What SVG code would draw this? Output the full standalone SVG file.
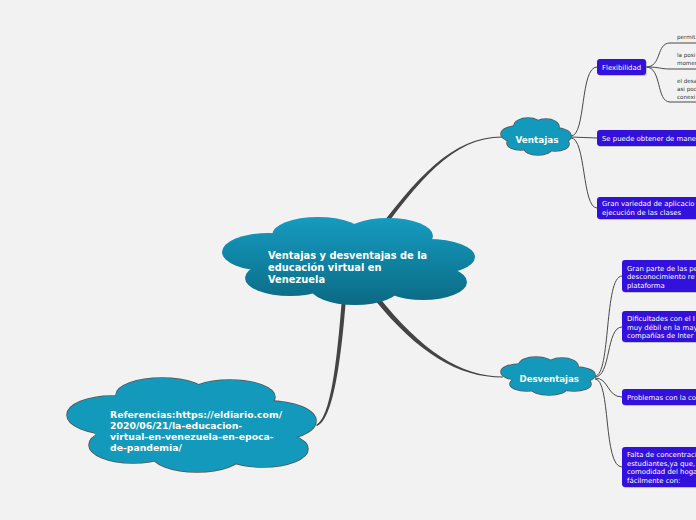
<svg xmlns="http://www.w3.org/2000/svg" width="696" height="520" viewBox="0 0 696 520">
<defs>
<linearGradient id="mainGrad" gradientUnits="userSpaceOnUse" x1="0" y1="217" x2="0" y2="305">
<stop offset="0" stop-color="#159bc0"/>
<stop offset="1" stop-color="#0b6a84"/>
</linearGradient>
<style>
.bg{fill:#f2f2f2}
.conn{fill:none;stroke:#4a4a4a;stroke-width:1}
.taper{fill:#444}
.cl-stroke ellipse{fill:none;stroke:#555;stroke-width:1.6}
.cl-fill ellipse{fill:#1399bb}
.main ellipse{fill:url(#mainGrad)}
.ctitle{font-family:"DejaVu Sans",Verdana,sans-serif;font-weight:bold;fill:#ffffff}
.box{fill:#3311dd;rx:3;ry:3}
.shadow{fill:#9a9a9a;opacity:0.55}
.btext{font-family:"DejaVu Sans",Verdana,sans-serif;font-size:6.9px;fill:#ffffff}
.ltext{font-family:"DejaVu Sans",Verdana,sans-serif;font-size:5.6px;fill:#333333}
</style>
</defs>
<rect class="bg" x="0" y="0" width="696" height="520"/>

<g id="connectors">
<path class="taper" d="M370 240 C416 178 452 136.5 502 136.5 L502 137.5 C453 137.5 419 180 374 242 Z"/>
<path class="taper" d="M378 296 C421 350 460 376.5 503 376.5 L503 377.5 C458 377.5 418 353 374 299 Z"/>
<path class="taper" d="M342 298 C337 360 331 418 316 425 L317 426 C333 420 341 362 346 298 Z"/>
<path class="conn" d="M571 136 C586 136 580 67 597 67"/>
<path class="conn" d="M571 137 L597 138"/>
<path class="conn" d="M571 138 C586 138 582 208 597 208"/>
<path class="conn" d="M646 67 C662 67 656 43 670 43 L696 43"/>
<path class="conn" d="M646 67 C660 67 660 69 670 69 L696 69"/>
<path class="conn" d="M646 67 C662 67 656 102 670 102 L696 102"/>
<path class="conn" d="M595 376 C611 376 604 276 622 276"/>
<path class="conn" d="M595 377 C611 377 606 327 622 327"/>
<path class="conn" d="M595 378 C609 378 607 397 622 397"/>
<path class="conn" d="M595 379 C611 379 603 467 622 467"/>
</g>

<g id="main-topic">
<g class="main">
<ellipse cx="318" cy="235" rx="46" ry="18"/>
<ellipse cx="388" cy="236" rx="45" ry="18"/>
<ellipse cx="268" cy="252" rx="46" ry="19"/>
<ellipse cx="428" cy="257" rx="47" ry="18"/>
<ellipse cx="290" cy="278" rx="45" ry="18"/>
<ellipse cx="355" cy="287" rx="45" ry="18"/>
<ellipse cx="423" cy="282" rx="44" ry="18"/>
<ellipse cx="348" cy="262" rx="100" ry="28"/>
</g>
<text class="ctitle" font-size="9.9" x="268" y="258.5">Ventajas y desventajas de la</text>
<text class="ctitle" font-size="9.9" x="268" y="270.5">educación virtual en</text>
<text class="ctitle" font-size="9.9" x="268" y="282.5">Venezuela</text>
</g>

<g id="ventajas">
<g class="cl-stroke">
<ellipse cx="528" cy="126" rx="14" ry="8"/>
<ellipse cx="546" cy="127" rx="13" ry="8"/>
<ellipse cx="518" cy="134" rx="17" ry="8"/>
<ellipse cx="556" cy="136" rx="15" ry="8"/>
<ellipse cx="521" cy="143" rx="14" ry="7"/>
<ellipse cx="538" cy="148" rx="14" ry="7"/>
<ellipse cx="555" cy="144" rx="14" ry="7"/>
</g>
<g class="cl-fill">
<ellipse cx="528" cy="126" rx="14" ry="8"/>
<ellipse cx="546" cy="127" rx="13" ry="8"/>
<ellipse cx="518" cy="134" rx="17" ry="8"/>
<ellipse cx="556" cy="136" rx="15" ry="8"/>
<ellipse cx="521" cy="143" rx="14" ry="7"/>
<ellipse cx="538" cy="148" rx="14" ry="7"/>
<ellipse cx="555" cy="144" rx="14" ry="7"/>
<ellipse cx="536" cy="137" rx="25" ry="10"/>
</g>
<text class="ctitle" font-size="8.8" x="515.5" y="143">Ventajas</text>
</g>

<g id="desventajas">
<g class="cl-stroke">
<ellipse cx="536" cy="365" rx="17" ry="8"/>
<ellipse cx="562" cy="366" rx="16" ry="8"/>
<ellipse cx="520" cy="372" rx="19" ry="8"/>
<ellipse cx="575" cy="375" rx="20" ry="8"/>
<ellipse cx="527" cy="384" rx="17" ry="7"/>
<ellipse cx="549" cy="388" rx="18" ry="7"/>
<ellipse cx="574" cy="384" rx="17" ry="7"/>
</g>
<g class="cl-fill">
<ellipse cx="536" cy="365" rx="17" ry="8"/>
<ellipse cx="562" cy="366" rx="16" ry="8"/>
<ellipse cx="520" cy="372" rx="19" ry="8"/>
<ellipse cx="575" cy="375" rx="20" ry="8"/>
<ellipse cx="527" cy="384" rx="17" ry="7"/>
<ellipse cx="549" cy="388" rx="18" ry="7"/>
<ellipse cx="574" cy="384" rx="17" ry="7"/>
<ellipse cx="548" cy="376" rx="38" ry="11"/>
</g>
<text class="ctitle" font-size="8.6" x="519.5" y="382">Desventajas</text>
</g>

<g id="referencias">
<g class="cl-stroke">
<ellipse cx="162" cy="395" rx="46" ry="17"/>
<ellipse cx="230" cy="397" rx="45" ry="17"/>
<ellipse cx="112" cy="415" rx="45" ry="19"/>
<ellipse cx="268" cy="421" rx="48" ry="20"/>
<ellipse cx="133" cy="445" rx="44" ry="18"/>
<ellipse cx="197" cy="455" rx="45" ry="17"/>
<ellipse cx="263" cy="449" rx="45" ry="18"/>
</g>
<g class="cl-fill">
<ellipse cx="162" cy="395" rx="46" ry="17"/>
<ellipse cx="230" cy="397" rx="45" ry="17"/>
<ellipse cx="112" cy="415" rx="45" ry="19"/>
<ellipse cx="268" cy="421" rx="48" ry="20"/>
<ellipse cx="133" cy="445" rx="44" ry="18"/>
<ellipse cx="197" cy="455" rx="45" ry="17"/>
<ellipse cx="263" cy="449" rx="45" ry="18"/>
<ellipse cx="190" cy="425" rx="100" ry="30"/>
</g>
<text class="ctitle" font-size="9.3" x="110" y="417.5">Referencias:https://eldiario.com/</text>
<text class="ctitle" font-size="9.3" x="110" y="428.8">2020/06/21/la-educacion-</text>
<text class="ctitle" font-size="9.3" x="110" y="440">virtual-en-venezuela-en-epoca-</text>
<text class="ctitle" font-size="9.3" x="110" y="451.3">de-pandemia/</text>
</g>

<g id="flexibilidad">
<rect class="shadow" x="598" y="60" width="49" height="16" rx="3"/>
<rect class="box" x="597" y="59" width="49" height="16"/>
<text class="btext" x="602" y="69.5">Flexibilidad</text>
</g>

<g id="leaf-permit">
<text class="ltext" x="677" y="39">permit</text>
</g>
<g id="leaf-posi">
<text class="ltext" x="677" y="57">la posi</text>
<text class="ltext" x="677" y="65">momen</text>
</g>
<g id="leaf-desa">
<text class="ltext" x="677" y="83">el desa</text>
<text class="ltext" x="677" y="91">asi poc</text>
<text class="ltext" x="677" y="99">conexi</text>
</g>

<g id="se-puede">
<rect class="shadow" x="598" y="131" width="110" height="16" rx="3"/>
<rect class="box" x="597" y="130" width="110" height="16"/>
<text class="btext" x="602" y="140.5">Se puede obtener de mane</text>
</g>

<g id="gran-variedad">
<rect class="shadow" x="598" y="198" width="110" height="22" rx="3"/>
<rect class="box" x="597" y="197" width="110" height="22"/>
<text class="btext" x="602" y="206">Gran variedad de aplicacio</text>
<text class="btext" x="602" y="215">ejecución de las clases</text>
</g>

<g id="gran-parte">
<rect class="shadow" x="623" y="261" width="90" height="32" rx="3"/>
<rect class="box" x="622" y="260" width="90" height="32"/>
<text class="btext" x="627" y="270.5">Gran parte de las pe</text>
<text class="btext" x="627" y="279">desconocimiento re</text>
<text class="btext" x="627" y="287.5">plataforma</text>
</g>

<g id="dificultades">
<rect class="shadow" x="623" y="312" width="90" height="31" rx="3"/>
<rect class="box" x="622" y="311" width="90" height="31"/>
<text class="btext" x="627" y="321">Dificultades con el I</text>
<text class="btext" x="627" y="329.5">muy débil en la may</text>
<text class="btext" x="627" y="338">compañías de Inter</text>
</g>

<g id="problemas">
<rect class="shadow" x="623" y="390" width="90" height="16" rx="3"/>
<rect class="box" x="622" y="389" width="90" height="16"/>
<text class="btext" x="627" y="399.5">Problemas con la co</text>
</g>

<g id="falta">
<rect class="shadow" x="623" y="448" width="90" height="40" rx="3"/>
<rect class="box" x="622" y="447" width="90" height="40"/>
<text class="btext" x="627" y="457">Falta de concentraci</text>
<text class="btext" x="627" y="465.5">estudiantes,ya que,</text>
<text class="btext" x="627" y="474">comodidad del hoga</text>
<text class="btext" x="627" y="482.5">fácilmente con:</text>
</g>
</svg>
